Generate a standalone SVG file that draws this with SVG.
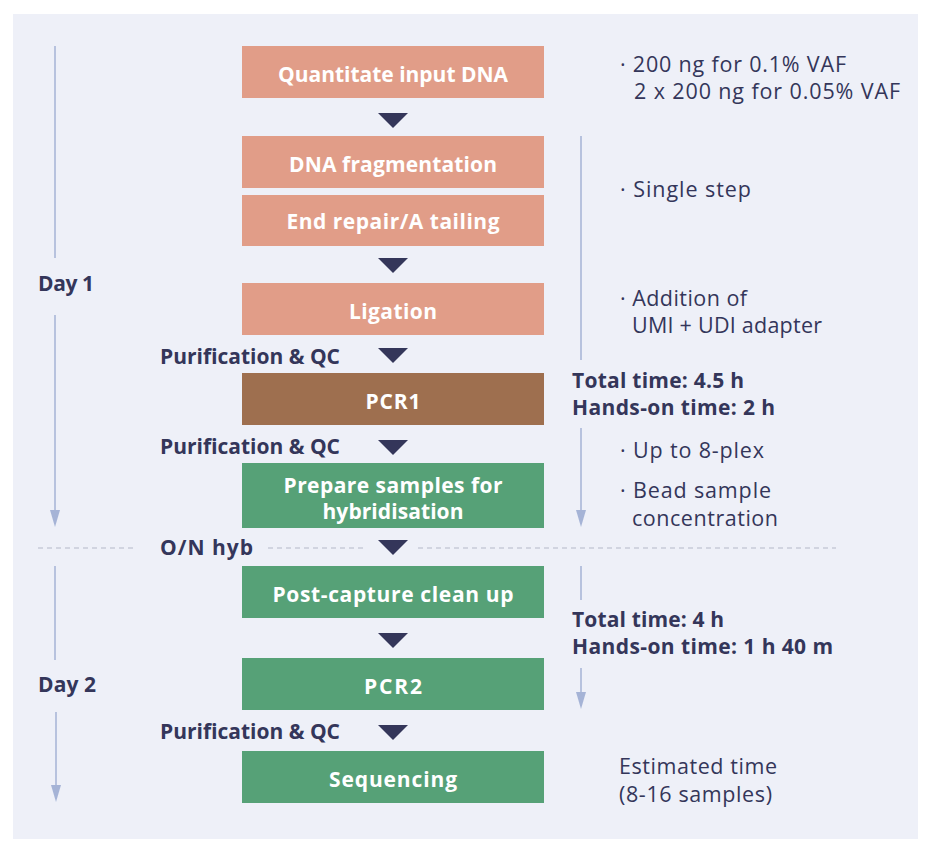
<svg xmlns="http://www.w3.org/2000/svg" width="935" height="856" viewBox="0 0 935 856">
<style>
.box text{font-family:"Open Sans","Liberation Sans",sans-serif;font-weight:700;font-size:21px;fill:#ffffff;text-anchor:middle}
.lbl{font-family:"Open Sans","Liberation Sans",sans-serif;font-weight:700;font-size:21px;fill:#34365a}
.note{font-family:"Open Sans","Liberation Sans",sans-serif;font-size:21.5px;fill:#34365a}
.salmon{fill:#e19d88}.brown{fill:#9e6f4f}.green{fill:#56a177}
.tri{fill:#34365a}
.tl{stroke:#a5b3d6;stroke-width:1.5;fill:none}
.ta{fill:#a5b3d6}
.dash{stroke:#b4b8c8;stroke-width:1;stroke-dasharray:5 4;fill:none}
</style>
<rect x="13" y="14" width="905" height="825" fill="#eef0f8"/>
<g id="connectors">
<polygon class="tri" points="378,113 408,113 393,128"/>
<polygon class="tri" points="378,258 408,258 393,273"/>
<polygon class="tri" points="378,348 408,348 393,363"/>
<polygon class="tri" points="378,440 408,440 393,455"/>
<polygon class="tri" points="378,540 408,540 393,555"/>
<polygon class="tri" points="378,633 408,633 393,648"/>
<polygon class="tri" points="378,725 408,725 393,740"/>
<line class="tl" x1="55" y1="46" x2="55" y2="258"/>
<line class="tl" x1="55" y1="315" x2="55" y2="512"/>
<polygon class="ta" points="50,510 60,510 55,527"/>
<line class="tl" x1="55" y1="566" x2="55" y2="660"/>
<line class="tl" x1="56" y1="712" x2="56" y2="788"/>
<polygon class="ta" points="51,785 61,785 56,802"/>
<line class="tl" x1="581" y1="136" x2="581" y2="360"/>
<line class="tl" x1="581" y1="428" x2="581" y2="512"/>
<polygon class="ta" points="576,510 586,510 581,527"/>
<line class="tl" x1="581" y1="566" x2="581" y2="600"/>
<line class="tl" x1="581" y1="668" x2="581" y2="694"/>
<polygon class="ta" points="576,692 586,692 581,709"/>
<line class="dash" x1="38" y1="548" x2="133" y2="548"/>
<line class="dash" x1="268" y1="548" x2="363" y2="548"/>
<line class="dash" x1="418" y1="548" x2="836" y2="548"/>
</g>
<g id="n1" class="box"><rect class="salmon" x="242" y="46" width="302" height="52"/><text x="393" y="82" textLength="230" lengthAdjust="spacing">Quantitate input DNA</text></g>
<g id="n2" class="box"><rect class="salmon" x="242" y="136" width="302" height="52"/><text x="393" y="172" textLength="208" lengthAdjust="spacing">DNA fragmentation</text></g>
<g id="n3" class="box"><rect class="salmon" x="242" y="195" width="302" height="51"/><text x="393" y="229" textLength="213" lengthAdjust="spacing">End repair/A tailing</text></g>
<g id="n4" class="box"><rect class="salmon" x="242" y="283" width="302" height="52"/><text x="393" y="319" textLength="88" lengthAdjust="spacing">Ligation</text></g>
<g id="n5" class="box"><rect class="brown" x="242" y="373" width="302" height="52"/><text x="393" y="409" textLength="55" lengthAdjust="spacing">PCR1</text></g>
<g id="n6" class="box"><rect class="green" x="242" y="463" width="302" height="65"/><text x="393" y="493" textLength="219" lengthAdjust="spacing">Prepare samples for</text><text x="393" y="519" textLength="141" lengthAdjust="spacing">hybridisation</text></g>
<g id="n7" class="box"><rect class="green" x="242" y="566" width="302" height="52"/><text x="393" y="602" textLength="241" lengthAdjust="spacing">Post-capture clean up</text></g>
<g id="n8" class="box"><rect class="green" x="242" y="658" width="302" height="52"/><text x="393" y="694" textLength="58" lengthAdjust="spacing">PCR2</text></g>
<g id="n9" class="box"><rect class="green" x="242" y="751" width="302" height="52"/><text x="393" y="787" textLength="128" lengthAdjust="spacing">Sequencing</text></g>
<g id="labels">
<text class="lbl" x="38" y="291" textLength="56" lengthAdjust="spacing">Day 1</text>
<text class="lbl" x="38" y="692" textLength="58" lengthAdjust="spacing">Day 2</text>
<text class="lbl" x="160" y="364" textLength="180" lengthAdjust="spacing">Purification &amp; QC</text>
<text class="lbl" x="160" y="454" textLength="180" lengthAdjust="spacing">Purification &amp; QC</text>
<text class="lbl" x="160" y="555" textLength="93" lengthAdjust="spacing">O/N hyb</text>
<text class="lbl" x="160" y="739" textLength="180" lengthAdjust="spacing">Purification &amp; QC</text>
<text class="note" x="620" y="72" textLength="226" lengthAdjust="spacing">· 200 ng for 0.1% VAF</text>
<text class="note" x="634" y="99" textLength="266" lengthAdjust="spacing">2 x 200 ng for 0.05% VAF</text>
<text class="note" x="620" y="197" textLength="131" lengthAdjust="spacing">· Single step</text>
<text class="note" x="620" y="306" textLength="127" lengthAdjust="spacing">· Addition of</text>
<text class="note" x="632" y="333" textLength="190" lengthAdjust="spacing">UMI + UDI adapter</text>
<text class="lbl" x="572" y="388" textLength="172" lengthAdjust="spacing">Total time: 4.5 h</text>
<text class="lbl" x="572" y="415" textLength="203" lengthAdjust="spacing">Hands-on time: 2 h</text>
<text class="note" x="620" y="458" textLength="144" lengthAdjust="spacing">· Up to 8-plex</text>
<text class="note" x="620" y="498" textLength="151" lengthAdjust="spacing">· Bead sample</text>
<text class="note" x="632" y="526" textLength="146" lengthAdjust="spacing">concentration</text>
<text class="lbl" x="572" y="627" textLength="152" lengthAdjust="spacing">Total time: 4  h</text>
<text class="lbl" x="572" y="654" textLength="261" lengthAdjust="spacing">Hands-on time: 1 h 40 m</text>
<text class="note" x="619" y="774" textLength="158" lengthAdjust="spacing">Estimated time</text>
<text class="note" x="619" y="802" textLength="153" lengthAdjust="spacing">(8-16 samples)</text>
</g>
</svg>
